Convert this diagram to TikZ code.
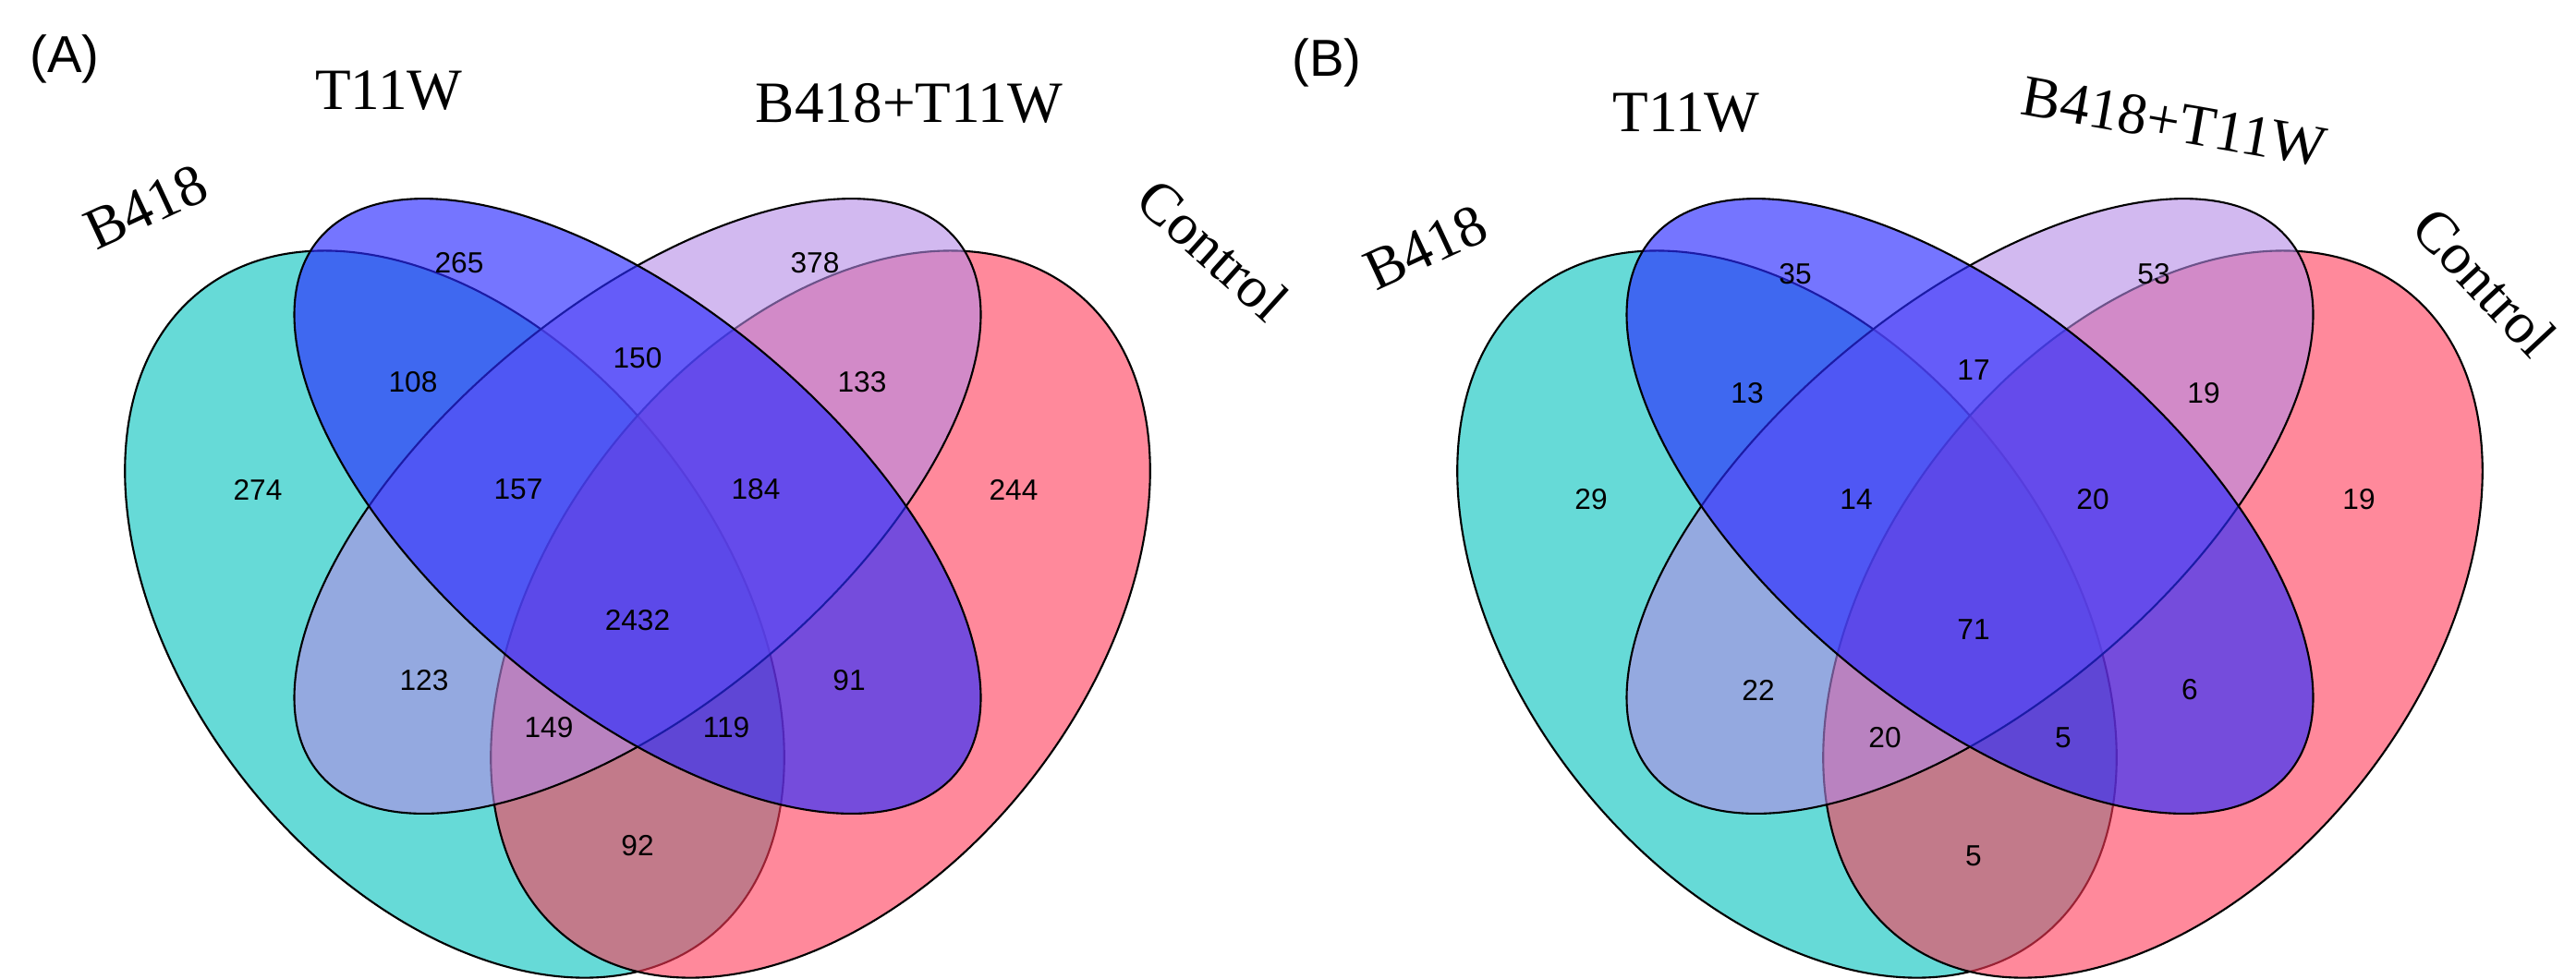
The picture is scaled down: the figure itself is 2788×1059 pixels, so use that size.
\documentclass[tikz,border=0pt]{standalone}
\usepackage{fontspec}
\setmainfont{Liberation Serif}
\newfontfamily\numfont{Liberation Sans}
\usepackage{tikz}
\definecolor{tealset}{RGB}{0,193,188}
\definecolor{redset}{RGB}{255,58,88}
\definecolor{blueset}{RGB}{43,43,255}
\definecolor{lavset}{RGB}{180,138,230}
\tikzset{
	set/.style={draw=black,line width=0.6pt,fill opacity=0.6},
	num/.style={font=\numfont\fontsize{9}{11}\selectfont},
	setlabel/.style={font=\fontsize{18}{21}\selectfont},
	panel/.style={font=\numfont\fontsize{16}{19}\selectfont}
}

\begin{document}
\begin{tikzpicture}[x=0.01cm,y=0.01cm]
\useasboundingbox (0,0) rectangle (2788,-1059);
% panel A
\begin{scope}[shift={(690,0)}]
\fill[tealset,set] (-198,-665) ellipse [x radius=445,y radius=290,rotate=-52];
\fill[redset,set] (198,-665) ellipse [x radius=445,y radius=290,rotate=52];
\fill[lavset,set] (0,-548) ellipse [x radius=450,y radius=215,rotate=40];
\fill[blueset,set,fill opacity=0.65] (0,-548) ellipse [x radius=450,y radius=215,rotate=-40];
\end{scope}
\node (pa) [panel] at (70,-64) {(A)};
\node (ta1) [setlabel] at (421,-98) {T11W};
\node (ta2) [setlabel] at (984,-112) {B418+T11W};
\node (ta3) [setlabel,rotate=25] at (158,-224) {B418};
\node (ta4) [setlabel,rotate=-42] at (1313,-270) {Control};
\node (a265) [num] at (497,-285) {265};
\node (a378) [num] at (882,-285) {378};
\node (a108) [num] at (447,-414) {108};
\node (a150) [num] at (690,-388) {150};
\node (a133) [num] at (933,-414) {133};
\node (a274) [num] at (279,-530) {274};
\node (a157) [num] at (561,-530) {157};
\node (a184) [num] at (818,-530) {184};
\node (a244) [num] at (1097,-530) {244};
\node (a2432) [num] at (690,-672) {2432};
\node (a123) [num] at (459,-737) {123};
\node (a91) [num] at (919,-737) {91};
\node (a149) [num] at (594,-788) {149};
\node (a119) [num] at (786,-788) {119};
\node (a92) [num] at (690,-916) {92};
% panel B
\begin{scope}[shift={(2132,0)}]
\fill[tealset,set] (-198,-665) ellipse [x radius=445,y radius=290,rotate=-52];
\fill[redset,set] (198,-665) ellipse [x radius=445,y radius=290,rotate=52];
\fill[lavset,set] (0,-548) ellipse [x radius=450,y radius=215,rotate=40];
\fill[blueset,set,fill opacity=0.65] (0,-548) ellipse [x radius=450,y radius=215,rotate=-40];
\end{scope}
\node (pb) [panel] at (1436,-68) {(B)};
\node (tb1) [setlabel] at (1825,-122) {T11W};
\node (tb2) [setlabel,rotate=-10] at (2353,-132) {B418+T11W};
\node (tb3) [setlabel,rotate=25] at (1543,-268) {B418};
\node (tb4) [setlabel,rotate=-47] at (2689,-305) {Control};
\node (b35) [num] at (1943,-297) {35};
\node (b53) [num] at (2331,-297) {53};
\node (b17) [num] at (2136,-401) {17};
\node (b13) [num] at (1891,-426) {13};
\node (b19a) [num] at (2385,-426) {19};
\node (b29) [num] at (1722,-541) {29};
\node (b14) [num] at (2009,-541) {14};
\node (b20a) [num] at (2265,-541) {20};
\node (b19b) [num] at (2553,-541) {19};
\node (b71) [num] at (2136,-682) {71};
\node (b22) [num] at (1903,-747) {22};
\node (b6) [num] at (2370,-747) {6};
\node (b20b) [num] at (2040,-799) {20};
\node (b5a) [num] at (2233,-799) {5};
\node (b5b) [num] at (2136,-927) {5};
\end{tikzpicture}
\end{document}
